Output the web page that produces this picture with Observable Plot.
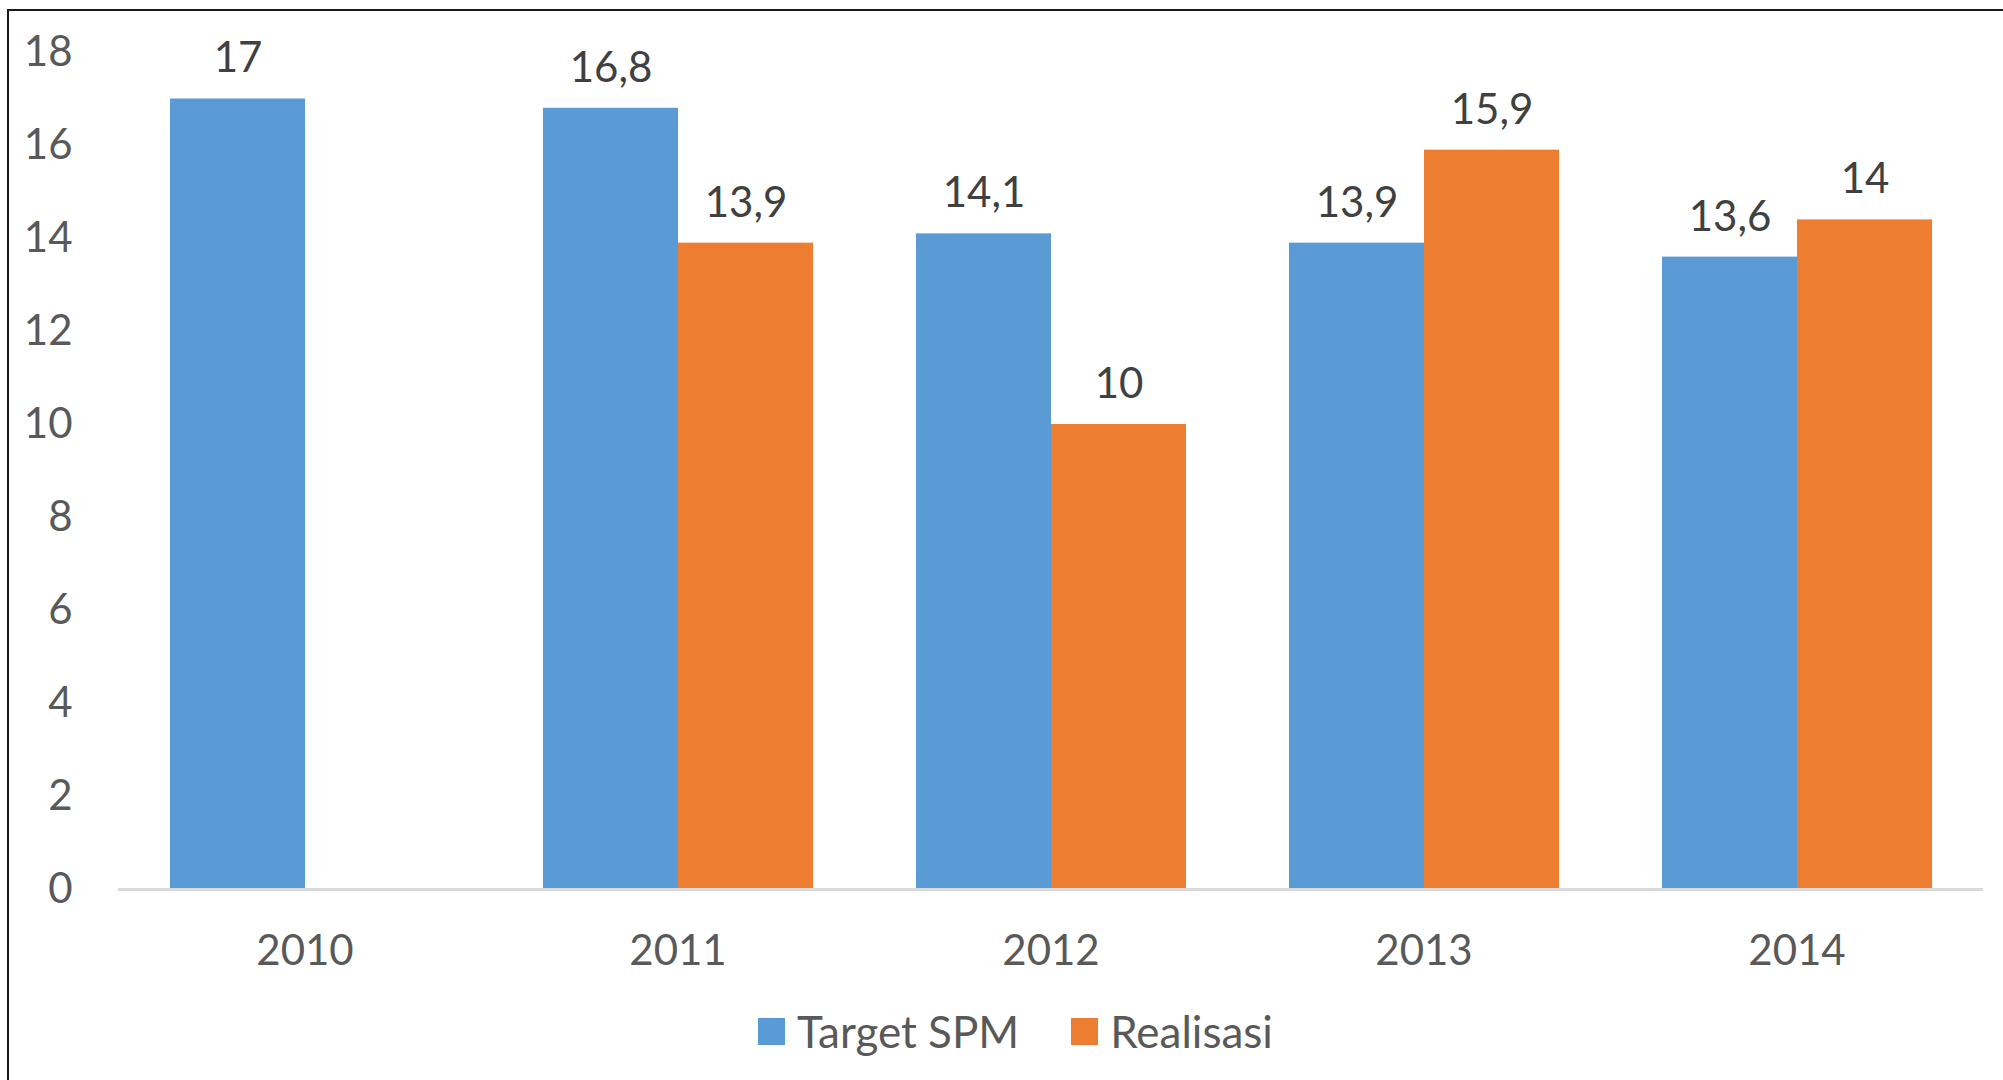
<!DOCTYPE html>
<html>
<head>
<meta charset="utf-8">
<script src="https://cdn.jsdelivr.net/npm/d3@7"></script>
<script src="https://cdn.jsdelivr.net/npm/@observablehq/plot@0.6"></script>
<style>
  html, body { margin: 0; padding: 0; background: #fff; }
  #wrap { position: relative; width: 2003px; height: 1080px; overflow: hidden; font-family: Lato, "Open Sans", sans-serif; }
  #frame { position: absolute; left: 7px; top: 9px; width: 2100px; height: 1200px; border: 2px solid #1a1a1a; box-sizing: border-box; pointer-events: none; }
  #legend { display: flex; justify-content: center; align-items: center; height: 52px; font-size: 44px; color: #595959; padding-left: 28px; }
  .item { display: flex; align-items: center; margin: 0 26px; }
  .sw { width: 27px; height: 27px; margin-right: 12px; }
</style>
</head>
<body>
<div id="wrap">
  <div id="chart"></div>
  <div id="legend"></div>
  <div id="frame"></div>
</div>
<script>
const years = ["2010", "2011", "2012", "2013", "2014"];
const seriesNames = ["Target SPM", "Realisasi"];
const targetSPM = [17, 16.8, 14.1, 13.9, 13.6];
const realisasi = [null, 13.9, 10, 15.9, 14.4];
const targetLabels = ["17", "16,8", "14,1", "13,9", "13,6"];
const realisasiLabels = [null, "13,9", "10", "15,9", "14"];
const colors = ["#5B9BD5", "#ED7D31"];
const yTicks = [0, 2, 4, 6, 8, 10, 12, 14, 16, 18];

const rows = [];
years.forEach((y, i) => {
  if (targetSPM[i] != null) rows.push({year: y, series: seriesNames[0], value: targetSPM[i], label: targetLabels[i]});
  if (realisasi[i] != null) rows.push({year: y, series: seriesNames[1], value: realisasi[i], label: realisasiLabels[i]});
});

const chart = Plot.plot({
  width: 2003,
  height: 1005,
  marginLeft: 118,
  marginRight: 20,
  marginTop: 52,
  marginBottom: 116,
  style: { fontFamily: "Lato, 'Open Sans', sans-serif", background: "transparent" },
  fx: { domain: years, padding: 0, label: null, axis: null },
  x: { domain: seriesNames, paddingInner: 0, paddingOuter: 0.381, axis: null },
  y: { domain: [0, 18], axis: null },
  color: { domain: seriesNames, range: colors },
  marks: [
    Plot.axisY({ ticks: yTicks, tickSize: 0, tickPadding: 46, fontSize: 42, color: "#595959", label: null, tickFormat: d => String(d) }),
    Plot.axisFx({ anchor: "bottom", tickSize: 0, tickPadding: 46, fontSize: 42, color: "#595959", label: null }),
    Plot.barY(rows, { fx: "year", x: "series", y: "value", fill: "series", inset: 0 }),
    Plot.ruleY([0], { stroke: "#d9d9d9", strokeWidth: 3 }),
    Plot.text(rows, { fx: "year", x: "series", y: "value", text: "label", dy: -40, fontSize: 42, fill: "#404040" })
  ]
});
document.getElementById("chart").appendChild(chart);

const legend = document.getElementById("legend");
seriesNames.forEach((name, i) => {
  const item = document.createElement("div");
  item.className = "item";
  const sw = document.createElement("div");
  sw.className = "sw";
  sw.style.background = colors[i];
  const label = document.createElement("span");
  label.textContent = name;
  item.appendChild(sw);
  item.appendChild(label);
  legend.appendChild(item);
});
</script>
</body>
</html>
